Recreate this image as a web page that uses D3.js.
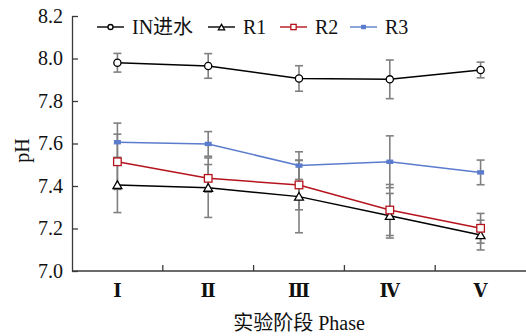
<!DOCTYPE html>
<html>
<head>
<meta charset="utf-8">
<script src="https://cdn.jsdelivr.net/npm/d3@7"></script>
<style>
	body { margin: 0; background: #fff; }
	text { font-family: "Liberation Serif", "DejaVu Serif", "Noto Sans CJK SC", serif; fill: #111; }
</style>
</head>
<body>
<div id="chart"></div>
<script>
// values (mean and +/- error per phase)
var phases = ["Ⅰ", "Ⅱ", "Ⅲ", "Ⅳ", "Ⅴ"];
var yTicks = [7.0, 7.2, 7.4, 7.6, 7.8, 8.0, 8.2];
var seriesNames = ["IN进水", "R1", "R2", "R3"];

var inMean = [7.98, 7.965, 7.906, 7.902, 7.946];
var inErr  = [0.044, 0.058, 0.06, 0.091, 0.037];
var r1Mean = [7.405, 7.392, 7.35, 7.26, 7.169];
var r1Err  = [0.13, 0.14, 0.17, 0.105, 0.07];
var r2Mean = [7.514, 7.436, 7.405, 7.287, 7.201];
var r2Err  = [0.13, 0.065, 0.117, 0.12, 0.07];
var r3Mean = [7.606, 7.598, 7.496, 7.514, 7.464];
var r3Err  = [0.09, 0.058, 0.065, 0.122, 0.058];

var margin = {top: 16, right: 0, bottom: 65, left: 72},
    width = 526 - margin.left - margin.right,
    height = 336 - margin.top - margin.bottom;

var series = [
	{name: seriesNames[0], mean: inMean, err: inErr, color: "#000", marker: "circle"},
	{name: seriesNames[1], mean: r1Mean, err: r1Err, color: "#000", marker: "triangle"},
	{name: seriesNames[2], mean: r2Mean, err: r2Err, color: "#b5141d", marker: "square"},
	{name: seriesNames[3], mean: r3Mean, err: r3Err, color: "#5b7bcc", marker: "bar"}
];

var svg = d3.select("#chart").append("svg")
    .attr("width", 526)
    .attr("height", 336)
  .append("g")
    .attr("transform", "translate(" + margin.left + "," + margin.top + ")");

var x = d3.scaleBand()
    .domain(phases)
    .range([0, width]);

var y = d3.scaleLinear()
    .domain([7.0, 8.2])
    .range([height, 0]);

var axisColor = "#3a3a3a";

// y axis, ticks pointing inward
var yAxis = svg.append("g")
    .call(d3.axisLeft(y).tickValues(yTicks).tickFormat(d3.format(".1f"))
        .tickSizeInner(-6).tickSizeOuter(0).tickPadding(9));
yAxis.select(".domain").attr("stroke", axisColor).attr("stroke-width", 1.3);
yAxis.selectAll(".tick line").attr("stroke", axisColor).attr("stroke-width", 1.3);
yAxis.selectAll(".tick text")
    .style("font-size", "20px")
    .attr("fill", "#111");

// x axis line with ticks on band boundaries
svg.append("line")
    .attr("x1", 0).attr("x2", width)
    .attr("y1", height).attr("y2", height)
    .attr("stroke", axisColor).attr("stroke-width", 1.3);

svg.selectAll(".xtick")
    .data(phases.slice(1))
  .enter().append("line")
    .attr("class", "xtick")
    .attr("x1", function(d) { return x(d); })
    .attr("x2", function(d) { return x(d); })
    .attr("y1", height)
    .attr("y2", height - 6)
    .attr("stroke", axisColor).attr("stroke-width", 1.3);

svg.selectAll(".xlabel")
    .data(phases)
  .enter().append("text")
    .attr("class", "xlabel")
    .attr("x", function(d) { return x(d) + x.bandwidth() / 2; })
    .attr("y", height + 26)
    .attr("text-anchor", "middle")
    .style("font-size", "18px")
    .style("font-weight", "bold")
    .text(function(d) { return d; });

// axis titles
svg.append("text")
    .attr("x", width / 2)
    .attr("y", height + 59)
    .attr("text-anchor", "middle")
    .style("font-size", "20px")
    .text("实验阶段 Phase");

svg.append("text")
    .attr("transform", "translate(" + (-43) + "," + (height / 2 + 7) + ") rotate(-90)")
    .attr("text-anchor", "middle")
    .style("font-size", "20px")
    .text("pH");

function cx(i) { return x(phases[i]) + x.bandwidth() / 2; }

// error bars
var errG = svg.append("g").attr("class", "errors");
series.forEach(function(s) {
	s.mean.forEach(function(m, i) {
		var hi = y(m + s.err[i]), lo = y(m - s.err[i]), px = cx(i);
		errG.append("line").attr("x1", px).attr("x2", px).attr("y1", hi).attr("y2", lo);
		errG.append("line").attr("x1", px - 4).attr("x2", px + 4).attr("y1", hi).attr("y2", hi);
		errG.append("line").attr("x1", px - 4).attr("x2", px + 4).attr("y1", lo).attr("y2", lo);
	});
});
errG.selectAll("line").attr("stroke", "#808080").attr("stroke-width", 1.6);

var line = d3.line()
    .x(function(d, i) { return cx(i); })
    .y(function(d) { return y(d); });

function drawMarker(g, type, color, px, py, k) {
	if (type === "circle") {
		g.append("circle").attr("cx", px).attr("cy", py).attr("r", 3.6 * k)
		    .attr("fill", "#fff").attr("stroke", color).attr("stroke-width", 1.3);
	} else if (type === "triangle") {
		g.append("path")
		    .attr("d", d3.symbol().type(d3.symbolTriangle).size(34 * k * k)())
		    .attr("transform", "translate(" + px + "," + (py + 1) + ")")
		    .attr("fill", "#fff").attr("stroke", color).attr("stroke-width", 1.3);
	} else if (type === "square") {
		var h = 3.8 * k;
		g.append("rect").attr("x", px - h).attr("y", py - h).attr("width", 2 * h).attr("height", 2 * h)
		    .attr("fill", "#fff").attr("stroke", color).attr("stroke-width", 1.3);
	} else {
		g.append("rect").attr("x", px - 3.5 * k).attr("y", py - 2.2).attr("width", 7 * k).attr("height", 4.4)
		    .attr("fill", color);
	}
}

series.forEach(function(s) {
	var g = svg.append("g");
	g.append("path")
	    .datum(s.mean)
	    .attr("fill", "none")
	    .attr("stroke", s.color)
	    .attr("stroke-width", 1.5)
	    .attr("d", line);
	s.mean.forEach(function(m, i) { drawMarker(g, s.marker, s.color, cx(i), y(m), 1); });
});

// legend
var legendX = [97, 208, 280, 350];
var legend = d3.select("svg").append("g").attr("class", "legend");
series.forEach(function(s, i) {
	var lx = legendX[i], ly = 27;
	legend.append("line").attr("x1", lx).attr("x2", lx + 27).attr("y1", ly).attr("y2", ly)
	    .attr("stroke", s.color).attr("stroke-width", 1.4);
	drawMarker(legend, s.marker, s.color, lx + 13.5, ly, 0.7);
	legend.append("text")
	    .attr("x", lx + 35)
	    .attr("y", ly + 6.5)
	    .style("font-size", "20px")
	    .text(s.name);
});
</script>
</body>
</html>
